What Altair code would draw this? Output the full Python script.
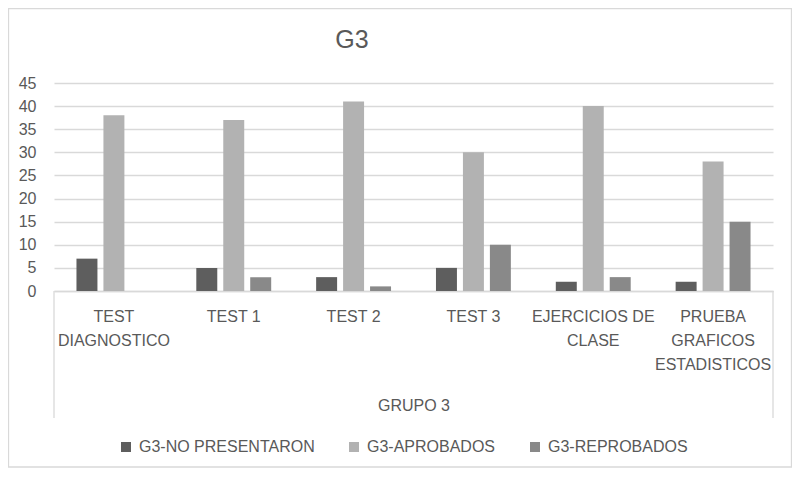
import pandas as pd
import altair as alt

# Datos
categories = ["TEST\nDIAGNOSTICO", "TEST 1", "TEST 2", "TEST 3",
              "EJERCICIOS DE\nCLASE", "PRUEBA\nGRAFICOS\nESTADISTICOS"]
series = ["G3-NO PRESENTARON", "G3-APROBADOS", "G3-REPROBADOS"]
no_presentaron = [7, 5, 3, 5, 2, 2]
aprobados = [38, 37, 41, 30, 40, 28]
reprobados = [0, 3, 1, 10, 3, 15]
y_ticks = [0, 5, 10, 15, 20, 25, 30, 35, 40, 45]
colors = ["#5e5e5e", "#b2b2b2", "#898989"]

rows = []
for name, vals in zip(series, [no_presentaron, aprobados, reprobados]):
    for cat, v in zip(categories, vals):
        rows.append({"prueba": cat, "serie": name, "valor": v})
df = pd.DataFrame(rows)

W, H = 719, 208
FONT = "Liberation Sans"
TXT = "#595959"
LINE = "#d9d9d9"

bars = alt.Chart(df).mark_bar().encode(
    x=alt.X("prueba:N", sort=categories,
            scale=alt.Scale(paddingInner=0, paddingOuter=0),
            axis=alt.Axis(title="GRUPO 3", labelAngle=0,
                          labelExpr="split(datum.label, '\\n')",
                          labelLineHeight=24, labelPadding=17,
                          labelFont=FONT, labelFontSize=16, labelColor=TXT,
                          ticks=False, domainColor=LINE, domainWidth=1.3,
                          titleY=114, titleBaseline="middle",
                          titleFont=FONT, titleFontSize=16,
                          titleFontWeight="normal", titleColor=TXT)),
    xOffset=alt.XOffset("serie:N", sort=series,
                        scale=alt.Scale(paddingInner=0.2222, paddingOuter=0.8333)),
    y=alt.Y("valor:Q", scale=alt.Scale(domain=[0, 45]),
            axis=alt.Axis(values=y_ticks, title=None, domain=False, ticks=False,
                          labelPadding=18, labelFont=FONT, labelFontSize=16,
                          labelColor=TXT, gridColor=LINE, gridWidth=1.3)),
    color=alt.Color("serie:N", sort=series,
                    scale=alt.Scale(domain=series, range=colors),
                    legend=alt.Legend(title=None, orient="none", direction="horizontal",
                                      legendX=64, legendY=356, padding=0,
                                      symbolType="square", symbolSize=100,
                                      symbolStrokeWidth=0, labelOffset=5,
                                      columnPadding=31, labelLimit=400,
                                      labelFont=FONT, labelFontSize=16,
                                      labelColor=TXT)),
)

edge = pd.DataFrame({"k": [0]})
left_rule = alt.Chart(edge).mark_rule(color=LINE, strokeWidth=1.3).encode(
    x=alt.value(0), y=alt.value(H), y2=alt.value(H + 127))
right_rule = alt.Chart(edge).mark_rule(color=LINE, strokeWidth=1.3).encode(
    x=alt.value(W), y=alt.value(H), y2=alt.value(H + 127))
border = alt.Chart(edge).mark_rect(fillOpacity=0, stroke=LINE, strokeWidth=1.3).encode(
    x=alt.value(-45.5), x2=alt.value(737.5), y=alt.value(-74.5), y2=alt.value(384))
title = alt.Chart(edge).mark_text(
    text="G3", font=FONT, fontSize=25, color=TXT, align="center", baseline="alphabetic"
).encode(x=alt.value(298), y=alt.value(-35))

chart = alt.layer(border, bars, left_rule, right_rule, title).properties(
    width=W, height=H,
    autosize=alt.AutoSizeParams(type="none"),
    padding={"left": 46, "top": 75, "right": 19, "bottom": 177},
).configure_view(stroke=None)

chart.save("out.html", embed_options={"renderer": "svg", "actions": False})
